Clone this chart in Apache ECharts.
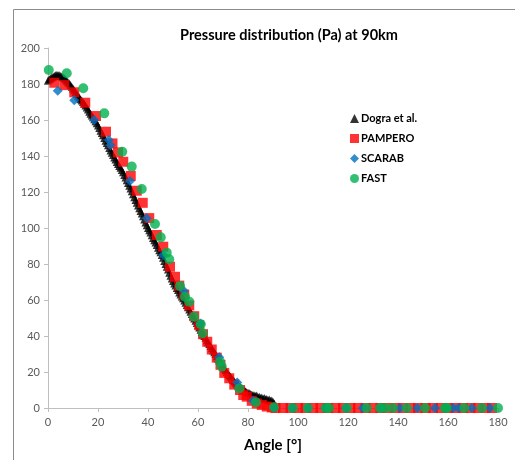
<!DOCTYPE html>
<html>
<head>
<meta charset="utf-8">
<script src="https://cdn.jsdelivr.net/npm/echarts@6/dist/echarts.min.js"></script>
<style>
html,body{margin:0;padding:0;background:#fff;}
#chart{width:515px;height:460px;}
</style>
</head>
<body>
<div id="chart"></div>
<script>
// Dogra et al. : [angle, pressure]
const dogra = [
[0,182],[0.5,182.6],[1,183],[1.5,183.6],[2,184],[2.5,184.5],[3,184.8],[3.5,185],[4,185],[4.5,184.8],
[5,184.5],[5.5,184.2],[6,183.8],[6.5,183.2],[7,182.5],[7.5,181.8],[8,181],[8.5,180.3],[9,179.5],[9.5,178.5],
[10,177.5],[10.5,176.5],[11,175.5],[11.5,174.5],[12,173.5],[12.5,172.5],[13,171.5],[13.5,170.8],[14,170],[14.5,169],
[15,168],[15.5,166.9],[16,165.8],[16.5,164.6],[17,163.5],[17.5,162.5],[18,161.5],[18.5,160.4],[19,159.3],[19.5,158.2],
[20,157],[20.5,155.5],[21,154],[21.5,152.8],[22,151.5],[22.5,150],[23,148.5],[23.5,147.2],[24,146],[24.5,144.5],
[25,143],[25.5,141.8],[26,140.5],[26.5,139.2],[27,138],[27.5,136.7],[28,135.5],[28.5,134.5],[29,133.5],[29.5,132.2],
[30,131],[30.5,129.5],[31,128],[31.5,126.5],[32,125],[32.5,123.5],[33,122],[33.5,120.4],[34,118.8],[34.5,117.1],
[35,115.5],[35.5,114],[36,112.5],[36.5,111],[37,109.5],[37.5,108],[38,106.5],[38.5,104.7],[39,103],[39.5,101.5],
[40,100],[40.5,98.7],[41,97.5],[41.5,96],[42,94.5],[42.5,93.2],[43,92],[43.5,90.5],[44,89],[44.5,87.7],
[45,86.5],[45.5,85],[46,83.5],[46.5,81.7],[47,80],[47.5,78.5],[48,77],[48.5,75.2],[49,73.5],[49.5,72],
[50,70.5],[50.5,69.2],[51,68],[51.5,66.7],[52,65.5],[52.5,64.2],[53,63],[53.5,62],[54,61],[54.5,59.7],
[55,58.5],[55.5,57.2],[56,56],[56.5,54.7],[57,53.5],[57.5,52.2],[58,51],[58.5,49.7],[59,48.5],[59.5,47.2],
[60,46],[60.5,44.7],[61,43.5],[61.5,42.2],[62,41],[62.5,40],[63,39],[63.5,37.7],[64,36.5],[64.5,35.5],
[65,34.5],[65.5,33.2],[66,32],[66.5,31],[67,30],[67.5,28.7],[68,27.5],[68.5,26.5],[69,25.5],[69.5,24.2],
[70,23],[70.5,22],[71,21],[71.5,20],[72,19],[72.5,18.2],[73,17.5],[73.5,16.5],[74,15.5],[74.5,14.8],
[75,14],[75.5,13.2],[76,12.5],[76.5,12],[77,11.5],[77.5,10.8],[78,10.3],[78.5,9.8],[79,9.3],[79.5,8.8],
[80,8.5],[80.5,8.2],[81,7.8],[81.5,7.4],[82,7.2],[82.5,7],[83,6.6],[83.5,6.9],[84,6],[84.5,6.3],
[85,5.5],[85.5,5.8],[86,5.2],[86.5,5.5],[87,4.8],[87.5,5],[88,4.5],[88.5,4.7],[89,4],[89.5,4.2],
[90,3.5],[90.5,2.5],[91,1]
];
// PAMPERO
const pampero = [
[2.5,180.7],[6.5,179.4],[10.5,175.4],[14.9,169.6],[19.2,162.2],[23.2,153.5],[25.8,147],[28,142],
[30.1,136.8],[33.1,128.9],[35.5,120.7],[37.9,114],[40.5,105.5],[43.5,96.1],[46.1,89.6],[48.8,78.5],
[50.8,72.9],[52.5,68],[54.5,63],[56.5,57],[58.5,51],[60.5,46],[62,41],[63.7,36.8],[65.5,32.5],
[67.5,28],[69,24],[70.5,19.5],[72.5,16.5],[74.5,13],[76.8,10],[78.1,7.2],[79.5,6.3],[81.5,4],
[83.5,2.5],[85.5,1.7],[87.5,0.8],[89.5,0.3],
[91,0],[94,0],[97,0],[100,0],[103,0],[106,0],[109,0],[112,0],[115,0],[118,0],[121,0],[124,0],
[127,0],[130,0],[133,0],[136,0],[139,0],[142,0],[145,0],[148,0],[151,0],[154,0],[157,0],[160,0],
[163,0],[166,0],[169,0],[172,0],[175,0],[177.6,0]
];
// SCARAB
const scarab = [
[3.9,176.3],[10.5,171],[18.5,160],[24.3,148.9],[25,146],[32.8,126.1],[39.5,105.4],[46.1,85],
[54.4,65],[61,47],[68.5,28.2],[75.7,14.1],[82,4],
[90.5,0],[97.5,0],[104,0],[111,0],[119,0],[125.9,0],[133.5,0],[140.8,0],[147.7,0],[154.8,0],
[162.1,0],[164.1,0],[169.5,0],[176.8,0]
];
// FAST
const fast = [
[0.3,187.8],[7.5,186],[14.1,177.6],[22.5,163.7],[29.7,142.4],[33.5,134.1],[37.5,121.7],[42.8,102.2],
[45.1,94.8],[47.5,86.3],[48.5,82.6],[52.8,67.8],[54.8,61.8],[56.5,59],[58.4,50.7],[61.1,46.5],
[61.9,41.5],[68.8,25.7],[69.5,23],[76.5,10.9],[83.2,3.2],[90.4,0.4],
[97.9,0],[103.9,0],[111.1,0],[112.4,0],[119.5,0],[127.5,0],[132.8,0],[134.8,0],[137.9,0],
[143.5,0],[150.8,0],[158.8,0],[159.5,0],[166.5,0],[173.5,0],[180,0]
];
const seriesNames = ['Dogra et al.','PAMPERO','SCARAB','FAST'];
const titleText = 'Pressure distribution (Pa) at 90km';
const xName = 'Angle [°]';

const font = 'Lato, "Liberation Sans", sans-serif';
const chart = echarts.init(document.getElementById('chart'), null, {renderer:'canvas'});
chart.setOption({
  animation:false,
  backgroundColor:'#fff',
  graphic:[{type:'rect',shape:{x:13.5,y:9.5,width:560,height:520},style:{fill:'none',stroke:'#8c8c8c',lineWidth:1},silent:true}],
  title:{text:titleText,left:284,textAlign:'center',top:23,textStyle:{fontFamily:font,fontSize:14.5,fontWeight:'bold',color:'#000'}},
  legend:{orient:'vertical',left:345,top:108,itemWidth:9,itemHeight:9,itemGap:9,
    textStyle:{fontFamily:font,fontSize:11,fontWeight:'bold',color:'#000',padding:[0,0,0,-3]},
    data:seriesNames},
  grid:{left:48,right:17,top:48,bottom:52},
  xAxis:{type:'value',min:0,max:180,interval:20,name:xName,nameLocation:'middle',nameGap:30,
    nameTextStyle:{fontFamily:font,fontSize:15,fontWeight:'bold',color:'#000'},
    axisLine:{onZero:false,lineStyle:{color:'#bfbfbf'}},
    axisTick:{show:true,length:4,lineStyle:{color:'#bfbfbf'}},
    axisLabel:{fontFamily:font,fontSize:11,color:'#595959',margin:9},
    splitLine:{show:false}},
  yAxis:{type:'value',min:0,max:200,interval:20,
    axisLine:{show:true,lineStyle:{color:'#bfbfbf'}},
    axisTick:{show:true,length:4,lineStyle:{color:'#bfbfbf'}},
    axisLabel:{fontFamily:font,fontSize:11,color:'#595959',margin:8},
    splitLine:{show:false}},
  series:[
    {name:seriesNames[0],type:'scatter',data:dogra,symbol:'triangle',symbolSize:8,itemStyle:{color:'#000'}},
    {name:seriesNames[1],type:'scatter',data:pampero,symbol:'rect',symbolSize:10,itemStyle:{color:'#ff0000'}},
    {name:seriesNames[2],type:'scatter',data:scarab,symbol:'diamond',symbolSize:10,itemStyle:{color:'#0070c0'}},
    {name:seriesNames[3],type:'scatter',data:fast,symbol:'circle',symbolSize:10,itemStyle:{color:'#00b050'}}
  ]
});
</script>
</body>
</html>
